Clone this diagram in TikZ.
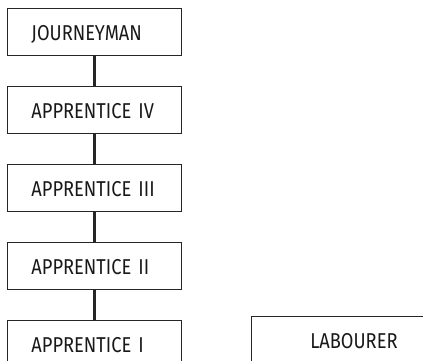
\documentclass[tikz,border=0pt]{standalone}
\usepackage{fontspec}
\setmainfont[FakeStretch=0.85]{Fira Sans}
\usetikzlibrary{positioning}
\begin{document}
\begin{tikzpicture}[x=1pt,y=-1pt,
    rank/.style={draw=black!85, line width=0.9pt, minimum width=174pt, minimum height=47pt,
                 inner xsep=0pt, text width=174pt, align=left, text=black!90,
                 text height=17.5pt, text depth=0pt,
                 execute at begin node={\hspace*{24pt}},
                 font=\fontsize{21.5}{21.5}\selectfont},
    link/.style={draw=black!85, line width=2.6pt},
    node distance=30pt]
\useasboundingbox (0,0) rectangle (423,360);
\clip (0,0) rectangle (423,360);
%
% Ranks (top to bottom)
\node [rank, anchor=north west] (journeyman) at (7,8) {JOURNEYMAN};
\node [rank, below=of journeyman] (appIV)  {APPRENTICE IV};
\node [rank, below=of appIV]      (appIII) {APPRENTICE III};
\node [rank, below=of appIII]     (appII)  {APPRENTICE II};
\node [rank, below=of appII]      (appI)   {APPRENTICE I};
%
% Labourer (apart)
\node [rank, anchor=north west, text width=181pt, align=center,
       execute at begin node={}] (labourer) at (251,316) {LABOURER};
%
% Links
\foreach \a/\b in {journeyman/appIV, appIV/appIII, appIII/appII, appII/appI}
    \draw [link] (\a) -- (\b);
%
\end{tikzpicture}
\end{document}
